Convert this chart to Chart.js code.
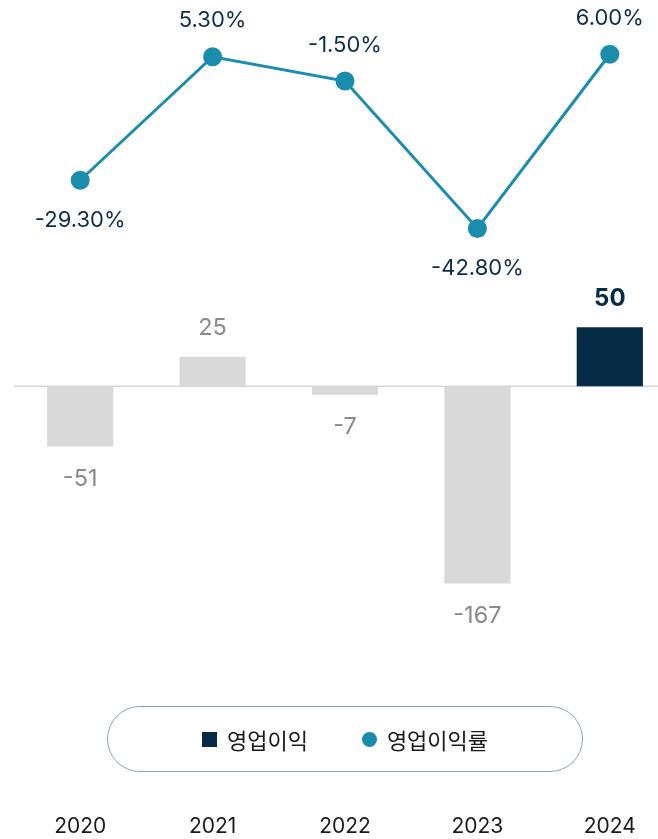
<!DOCTYPE html>
<html>
<head>
<meta charset="utf-8">
<script src="https://cdn.jsdelivr.net/npm/chart.js@4/dist/chart.umd.min.js"></script>
<style>
  body { margin: 0; background: #fff; overflow: hidden; }
  #wrap { position: relative; width: 690px; height: 839px; overflow: hidden; }
  #legend {
    position: absolute; left: 107px; top: 706px; width: 474px; height: 64px;
    border: 1.5px solid #8fa3b3; border-radius: 34px;
    display: flex; align-items: center; justify-content: center;
    font-family: "Noto Sans CJK KR", "Noto Sans", sans-serif; font-size: 22px; color: #1a1a1a;
  }
  #legend .item { display: flex; align-items: center; }
  #legend .sq { width: 15px; height: 15px; background: #052b45; margin-right: 10px; }
  #legend .dot { width: 15px; height: 15px; border-radius: 50%; background: #1a8dad; margin-right: 10px; margin-left: 54px; }
</style>
</head>
<body>
<div id="wrap">
  <canvas id="chart" width="690" height="845"></canvas>
  <div id="legend">
    <div class="item"><span class="sq"></span><span>영업이익</span></div>
    <div class="item"><span class="dot"></span><span>영업이익률</span></div>
  </div>
</div>
<script>
const years = ["2020", "2021", "2022", "2023", "2024"];
const profit = [-51, 25, -7, -167, 50];
const margin = [-29.3, 5.3, -1.5, -42.8, 6.0];

const navy = "#052b45";
const teal = "#1a8dad";
const grey = "#d9d9d9";

const barColors = profit.map((v, i) => i === profit.length - 1 ? navy : grey);

const labelPlugin = {
  id: "valueLabels",
  beforeDatasetsDraw(chart) {
    const y = chart.scales.yBar;
    const area = chart.chartArea;
    const ctx = chart.ctx;
    const y0 = y.getPixelForValue(0);
    ctx.save();
    ctx.strokeStyle = "#d6d6d6";
    ctx.lineWidth = 1.5;
    ctx.beginPath();
    ctx.moveTo(area.left, y0);
    ctx.lineTo(area.right, y0);
    ctx.stroke();
    ctx.restore();
  },
  afterDatasetsDraw(chart) {
    const ctx = chart.ctx;
    ctx.save();
    ctx.textAlign = "center";
    ctx.textBaseline = "middle";

    const barMeta = chart.getDatasetMeta(0);
    barMeta.data.forEach((el, i) => {
      const v = profit[i];
      const last = i === profit.length - 1;
      ctx.font = (last ? "bold 24px" : "23.5px") + " Inter";
      ctx.fillStyle = last ? navy : "#8a8a8a";
      const ty = v >= 0 ? el.y - 29 : el.y + 32;
      ctx.fillText(String(v), el.x, ty);
    });

    const lineMeta = chart.getDatasetMeta(1);
    lineMeta.data.forEach((el, i) => {
      const v = margin[i];
      const prev = i > 0 ? margin[i - 1] : Infinity;
      const next = i < margin.length - 1 ? margin[i + 1] : Infinity;
      const below = v < prev && v < next;
      ctx.font = "22px Inter";
      ctx.fillStyle = "#0f2d48";
      ctx.fillText(v.toFixed(2) + "%", el.x, below ? el.y + 40 : el.y - 36);
    });
    ctx.restore();
  }
};

new Chart(document.getElementById("chart"), {
  data: {
    labels: years,
    datasets: [
      {
        type: "bar",
        label: "영업이익",
        data: profit,
        yAxisID: "yBar",
        backgroundColor: barColors,
        barPercentage: 0.5,
        categoryPercentage: 1,
        order: 2
      },
      {
        type: "line",
        label: "영업이익률",
        data: margin,
        yAxisID: "yLine",
        borderColor: teal,
        borderWidth: 3,
        pointRadius: 9.5,
        pointBackgroundColor: teal,
        pointBorderWidth: 0,
        tension: 0,
        order: 1
      }
    ]
  },
  options: {
    responsive: false,
    animation: false,
    layout: { autoPadding: false, padding: { left: 14, right: 14, top: 0, bottom: 0 } },
    plugins: { legend: { display: false }, tooltip: { enabled: false } },
    scales: {
      x: {
        grid: { display: false, drawTicks: false },
        border: { display: false },
        ticks: { color: "#1a1a1a", font: { family: "Inter", size: 21 }, padding: 6 }
      },
      yBar: {
        display: false,
        min: -356.8,
        max: 327.1
      },
      yLine: {
        display: false,
        min: -205.1,
        max: 21.2
      }
    }
  },
  plugins: [labelPlugin]
});
</script>
</body>
</html>
